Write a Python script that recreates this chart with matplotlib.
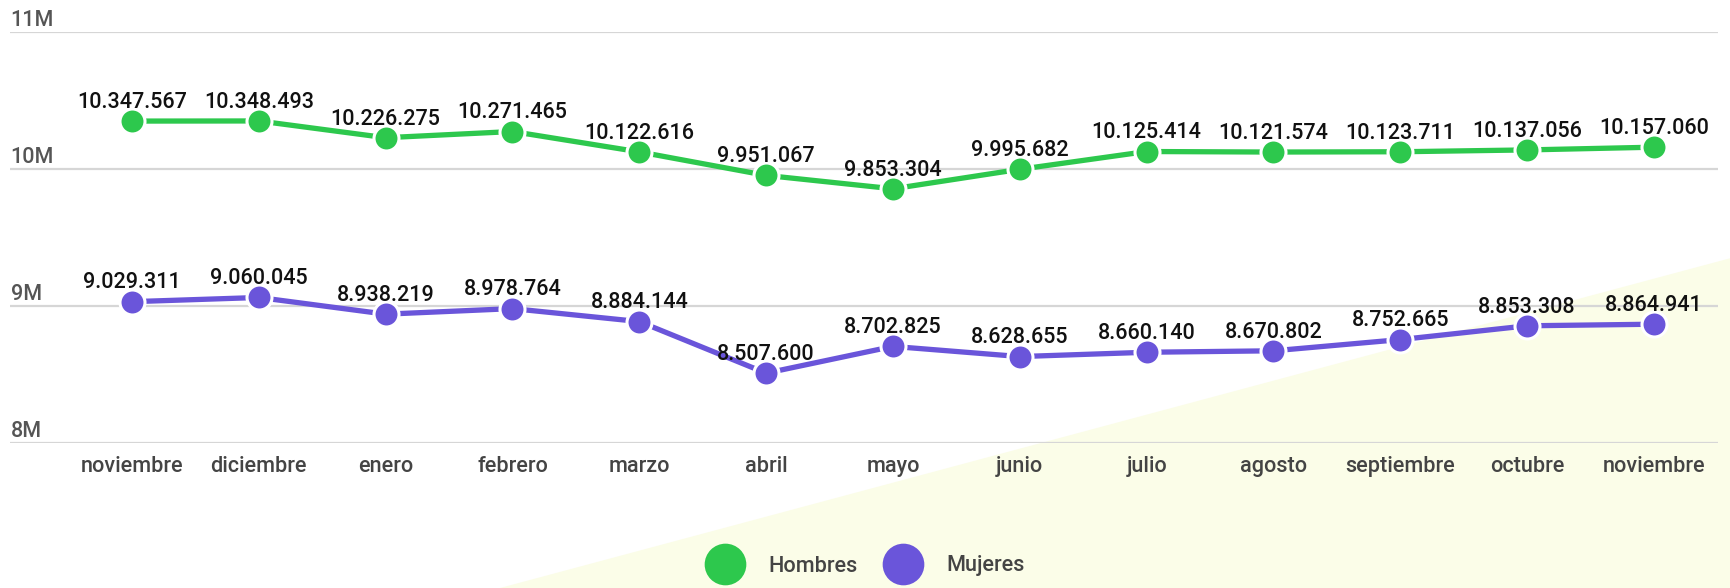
import matplotlib
matplotlib.use("Agg")
import matplotlib.pyplot as plt
from matplotlib.lines import Line2D
from matplotlib.patches import Polygon

plt.rcParams['font.family'] = ['Roboto', 'DejaVu Sans']

# data (monthly totals, nov -> nov)
meses = ["noviembre", "diciembre", "enero", "febrero", "marzo", "abril", "mayo",
         "junio", "julio", "agosto", "septiembre", "octubre", "noviembre"]
hombres = [10347567, 10348493, 10226275, 10271465, 10122616, 9951067, 9853304,
           9995682, 10125414, 10121574, 10123711, 10137056, 10157060]
mujeres = [9029311, 9060045, 8938219, 8978764, 8884144, 8507600, 8702825,
           8628655, 8660140, 8670802, 8752665, 8853308, 8864941]
y_ticks = [8_000_000, 9_000_000, 10_000_000, 11_000_000]
y_tick_labels = ["8M", "9M", "10M", "11M"]

verde = "#2dc84d"
morado = "#6a55da"

W, H = 1731, 588
fig = plt.figure(figsize=(W / 100, H / 100), dpi=100)

# light yellow wedge in the background
fig.patches.append(Polygon([(500 / W, 0), (1, 1 - 258 / H), (1, 0)],
                           closed=True, transform=fig.transFigure,
                           facecolor="#fbfde8", edgecolor="none", zorder=0))

ax = fig.add_axes([10 / W, 1 - 442.7 / H, (1718 - 10) / W, (442.7 - 31.7) / H])
ax.set_facecolor("none")
ax.set_zorder(2)

x = list(range(len(meses)))
for serie, color in [(hombres, verde), (mujeres, morado)]:
    ax.plot(x, serie, color=color, lw=3.8, marker="o", ms=18,
            mfc=color, mec="white", mew=2.2, zorder=3, solid_capstyle="butt")
    for xi, v in zip(x, serie):
        ax.annotate(f"{v:,}".replace(",", "."), (xi, v), xytext=(0, 9.5),
                    textcoords="offset points", ha="center", va="baseline",
                    fontsize=15.5, fontweight="medium", color="#111111", zorder=5)

ax.set_ylim(8_000_000, 11_000_000)
ax.set_xlim(-0.962, 12.505)

ax.set_yticks(y_ticks)
ax.yaxis.grid(True, color="#d6d6d6", lw=1.6)
ax.set_axisbelow(True)
ax.tick_params(axis="y", length=0, labelleft=False)
for v, lab in zip(y_ticks, y_tick_labels):
    ax.annotate(lab, (0, v), xycoords=ax.get_yaxis_transform(), xytext=(0.5, 4.3),
                textcoords="offset points", ha="left", va="baseline",
                fontsize=15.5, fontweight="medium", color="#555555")

ax.set_xticks(x)
ax.set_xticklabels(meses, fontsize=15.6, fontweight="medium", color="#444444")
ax.tick_params(axis="x", length=0, pad=9.5)

for s in ax.spines.values():
    s.set_visible(False)

handles = [Line2D([], [], ls="none", marker="o", ms=30, mfc=verde, mec="none"),
           Line2D([], [], ls="none", marker="o", ms=30, mfc=morado, mec="none")]
leg = fig.legend(handles, ["Hombres", "Mujeres"], loc="center", ncol=2,
                 bbox_to_anchor=(864 / W, 1 - 566 / H), frameon=False,
                 prop={"size": 15.6, "weight": "medium"}, labelcolor="#444444",
                 handlelength=2, handletextpad=1.0, columnspacing=1.1)
leg.set_zorder(3)

fig.savefig("out.png", dpi=100)
